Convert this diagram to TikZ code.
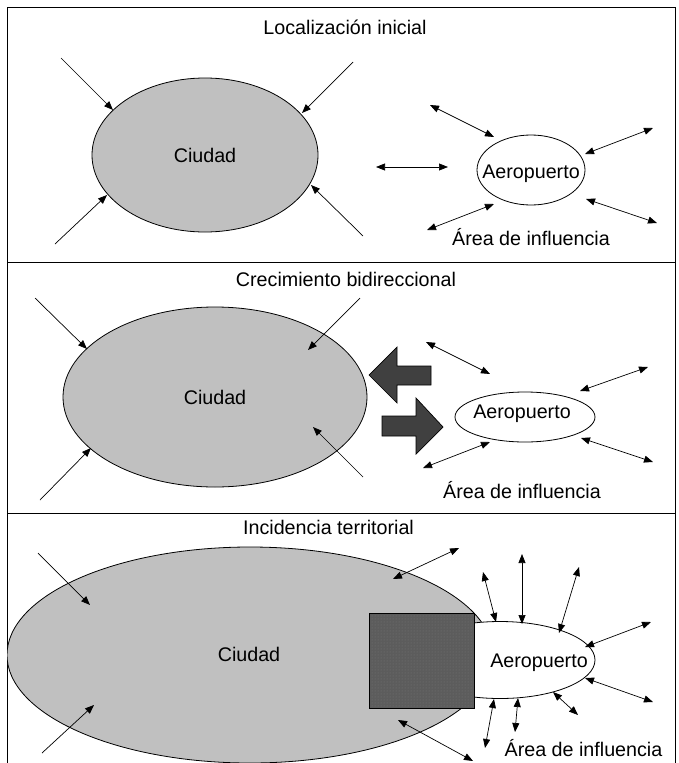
\documentclass[tikz,border=0pt]{standalone}
\usepackage{fontspec}
\setmainfont{Liberation Sans}
\usetikzlibrary{arrows.meta,patterns}

\definecolor{cityfill}{HTML}{C0C0C0}
\definecolor{blockfill}{HTML}{404040}
\definecolor{terminalfill}{HTML}{5C5C5C}
\definecolor{terminaldots}{HTML}{767676}

\tikzset{
  frameline/.style={line width=0.9pt, draw=black},
  outline/.style={line width=0.8pt, draw=black},
  city/.style={outline, fill=cityfill},
  airport/.style={outline, fill=white},
  inflow/.style={line width=0.7pt, -{Triangle[length=9pt,width=7pt]}},
  link/.style={line width=0.7pt, {Triangle[length=9pt,width=7pt]}-{Triangle[length=9pt,width=7pt]}},
  block/.style={line width=0.7pt, draw=black, fill=blockfill},
  label/.style={font=\fontsize{19.7}{23}\selectfont, anchor=base, inner sep=0pt}
}

\begin{document}
\begin{tikzpicture}[x=1pt, y=-1pt]
\useasboundingbox (0,0) rectangle (679,763);

% ---------- frame and panel dividers ----------
\draw[frameline] (7,763) -- (7,7) -- (675,7) -- (675,763);
\draw[frameline] (7,262) -- (675,262);
\draw[frameline] (7,513) -- (675,513);

% ================= Panel 1 =================
\node[label] (t1) at (345,34) {Localización inicial};

\draw[city] (205,155) ellipse [x radius=113, y radius=77];
\node[label] (c1) at (205,162) {Ciudad};

\draw[airport] (531,170) ellipse [x radius=54, y radius=35];
\node[label] (a1) at (531,178) {Aeropuerto};
\node[label] (i1) at (531,245) {Área de influencia};

\foreach \sx/\sy/\ex/\ey in {61/58/113/110, 353/62/302/113, 55/244/107/195, 363/236/311/185}
  \draw[inflow] (\sx,\sy) -- (\ex,\ey);

\foreach \sx/\sy/\ex/\ey in {376/167/448/167, 430/105/494/137, 585/154/653/128,
                             427/230/494/204, 586/199/657/223}
  \draw[link] (\sx,\sy) -- (\ex,\ey);

% ================= Panel 2 =================
\node[label] (t2) at (346,286) {Crecimiento bidireccional};

\draw[city] (215,397) ellipse [x radius=152, y radius=90];
\node[label] (c2) at (215,404) {Ciudad};

\draw[airport] (525,417) ellipse [x radius=70, y radius=25];
\node[label] (a2) at (522,418) {Aeropuerto};
\node[label] (i2) at (522,498) {Área de influencia};

\foreach \sx/\sy/\ex/\ey in {35/298/87/349, 360/298/308/350, 40/500/91/448, 363/477/313/427}
  \draw[inflow] (\sx,\sy) -- (\ex,\ey);

\foreach \sx/\sy/\ex/\ey in {426/342/490/374, 580/391/648/367, 423/468/490/442, 581/438/653/462}
  \draw[link] (\sx,\sy) -- (\ex,\ey);

% block arrows: growth towards each other
\draw[block] (369,375) -- (397,347) -- (397,366) -- (431,366) -- (431,385)
             -- (397,385) -- (397,403) -- cycle;
\draw[block] (443,427) -- (416,398) -- (416,416) -- (382,416) -- (382,436)
             -- (416,436) -- (416,454) -- cycle;

% ================= Panel 3 =================
\node[label] (t3) at (328.5,534) {Incidencia territorial};

\begin{scope}
  \clip (7,513) rectangle (675,763);
  \draw[city] (250,655) ellipse [x radius=243, y radius=108];
\end{scope}
\node[label] (c3) at (249,661) {Ciudad};

\draw[airport] (500,660) ellipse [x radius=95, y radius=38.5];
\node[label] (a3) at (539,667) {Aeropuerto};

% terminal block with a fine dotted texture
\fill[terminalfill] (369,613) rectangle (474,708);
\fill[pattern=dots, pattern color=terminaldots] (369,613) rectangle (474,708);
\draw[line width=1pt] (369,613) rectangle (474,708);

\node[label] (i3) at (583.5,756) {Área de influencia};

\foreach \sx/\sy/\ex/\ey in {38/553/90/605, 42/753/94/705}
  \draw[inflow] (\sx,\sy) -- (\ex,\ey);

\foreach \sx/\sy/\ex/\ey in {393/579/459/548, 483/572/496/622, 522/554/522/624,
                             579/567/559/633, 651/622/585/647, 585/678/653/702,
                             553/692/578/715, 518/698/515/732, 494/699/485/748,
                             398/720/473/761}
  \draw[link] (\sx,\sy) -- (\ex,\ey);
\end{tikzpicture}
\end{document}
